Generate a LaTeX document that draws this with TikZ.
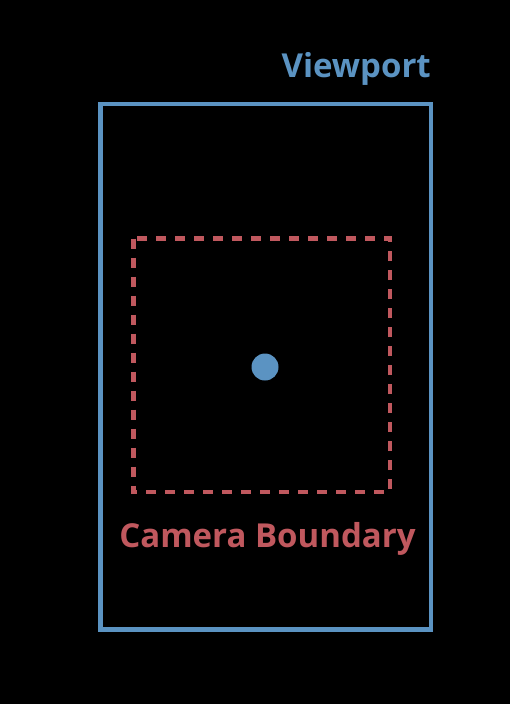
\documentclass[tikz,border=0pt]{standalone}
\usepackage{fontspec}
\setmainfont{Open Sans}
\definecolor{viewblue}{RGB}{91,147,194}
\definecolor{camred}{RGB}{192,88,94}

\begin{document}
\begin{tikzpicture}[x=1pt,y=-1pt]
\tikzset{frame/.style={line width=4.5pt},
  label/.style={font=\bfseries\fontsize{33}{37}\selectfont}}

\fill[black] (0,0) rectangle (510,704);
\useasboundingbox (0,0) rectangle (510,704);

% Corners of the viewport and of the camera boundary.
\coordinate (VA) at (100.5,104);
\coordinate (VB) at (431,629.5);
\coordinate (CA) at (133.5,238.5);
\coordinate (CB) at (390,492);
\coordinate (O) at (265,367);

\draw[frame,viewblue] (VA) rectangle (VB);
\draw[frame,camred,dash pattern=on 10pt off 9pt] (CA) rectangle (CB);
\fill[viewblue] (O) circle (13.5pt);

\node[label,viewblue,anchor=base east,inner sep=0pt] (viewport) at (431,77) {Viewport};
\node[label,camred,anchor=base,inner sep=0pt] (boundary) at (267.5,547) {Camera Boundary};

\end{tikzpicture}
\end{document}
